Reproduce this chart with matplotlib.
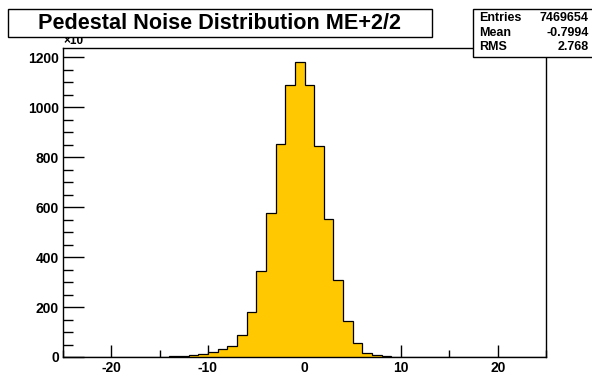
import numpy as np
import matplotlib
matplotlib.use("Agg")
import matplotlib.pyplot as plt
from matplotlib.patches import Rectangle

# bin edges -25..25, width 1; contents shown in units of x10^3
edges = np.arange(-25, 26, 1)
counts = [0, 0, 0, 0, 0, 0, 0, 0, 0, 1,      # -25 .. -16
          2, 3, 4, 7, 12, 21, 31, 44, 90, 181,  # -15 .. -6
          343, 577, 853, 1088, 1180,          # -5 .. -1
          1091, 845, 553, 309, 144,           # 0 .. 4
          56, 18, 7, 3, 1,                    # 5 .. 9
          0, 0, 0, 0, 0, 0, 0, 0, 0, 0, 0, 0, 0, 0, 0]
counts = counts[:50]

title = "Pedestal Noise Distribution ME+2/2"
stat_names = ["Entries", "Mean", "RMS"]
stat_vals = ["7469654", "-0.7994", "2.768"]
xticks = [-20, -10, 0, 10, 20]
yticks = [0, 200, 400, 600, 800, 1000, 1200]

plt.rcParams['font.family'] = ['Liberation Sans', 'DejaVu Sans']
plt.rcParams['font.weight'] = 'bold'
plt.rcParams['axes.unicode_minus'] = False

W, H = 592, 375
fig = plt.figure(figsize=(W / 100, H / 100), dpi=100)
ax = fig.add_axes([63 / W, 1 - 357 / H, (546 - 63) / W, (357 - 47.5) / H])

ax.stairs(counts, edges, fill=True, color='#ffc800', zorder=2)
ax.stairs(counts, edges, color='black', lw=0.9, zorder=3)

ax.set_xlim(-25, 25)
ax.set_ylim(0, 1240)
ax.set_xticks(xticks)
ax.set_xticks(np.arange(-25, 26, 5), minor=True)
ax.set_yticks(yticks)
ax.set_yticks(np.arange(0, 1241, 50), minor=True)
ax.tick_params(axis='x', which='major', direction='in', length=9, width=1, labelsize=10, pad=3)
ax.tick_params(axis='x', which='minor', direction='in', length=5, width=1)
ax.tick_params(axis='y', which='major', direction='in', length=15, width=1, labelsize=10, pad=3)
ax.tick_params(axis='y', which='minor', direction='in', length=7, width=1)
for lab in ax.get_xticklabels() + ax.get_yticklabels():
    lab.set_fontweight('bold')
for sp in ax.spines.values():
    sp.set_linewidth(1)

# exponent label partly hidden under the title box
fig.text(63 / W, 1 - 44 / H, "×10", fontsize=8.5, ha='left', va='baseline', zorder=1)

# title box
fig.patches.append(Rectangle((8 / W, 1 - 37 / H), (432 - 8) / W, 28 / H,
                             transform=fig.transFigure, facecolor='white',
                             edgecolor='black', lw=1, zorder=5))
fig.text((8 + 432) / 2 / W, 1 - 23.5 / H, title, fontsize=15.6, fontweight='bold',
         ha='center', va='center', zorder=6)

# stats box
fig.patches.append(Rectangle((474 / W, 1 - 58 / H), (600 - 474) / W, 49 / H,
                             transform=fig.transFigure, facecolor='#555555',
                             edgecolor='none', zorder=5))
fig.patches.append(Rectangle((473 / W, 1 - 57 / H), (600 - 473) / W, 48 / H,
                             transform=fig.transFigure, facecolor='white',
                             edgecolor='black', lw=1, zorder=6))
for i, (n, v) in enumerate(zip(stat_names, stat_vals)):
    y = 1 - (18 + i * 14.5) / H
    fig.text(479 / W, y, n, fontsize=9, fontweight='bold', ha='left', va='center', zorder=7)
    fig.text(589 / W, y, v, fontsize=9, fontweight='bold', ha='right', va='center', zorder=7)

fig.savefig("out.png", dpi=100)
